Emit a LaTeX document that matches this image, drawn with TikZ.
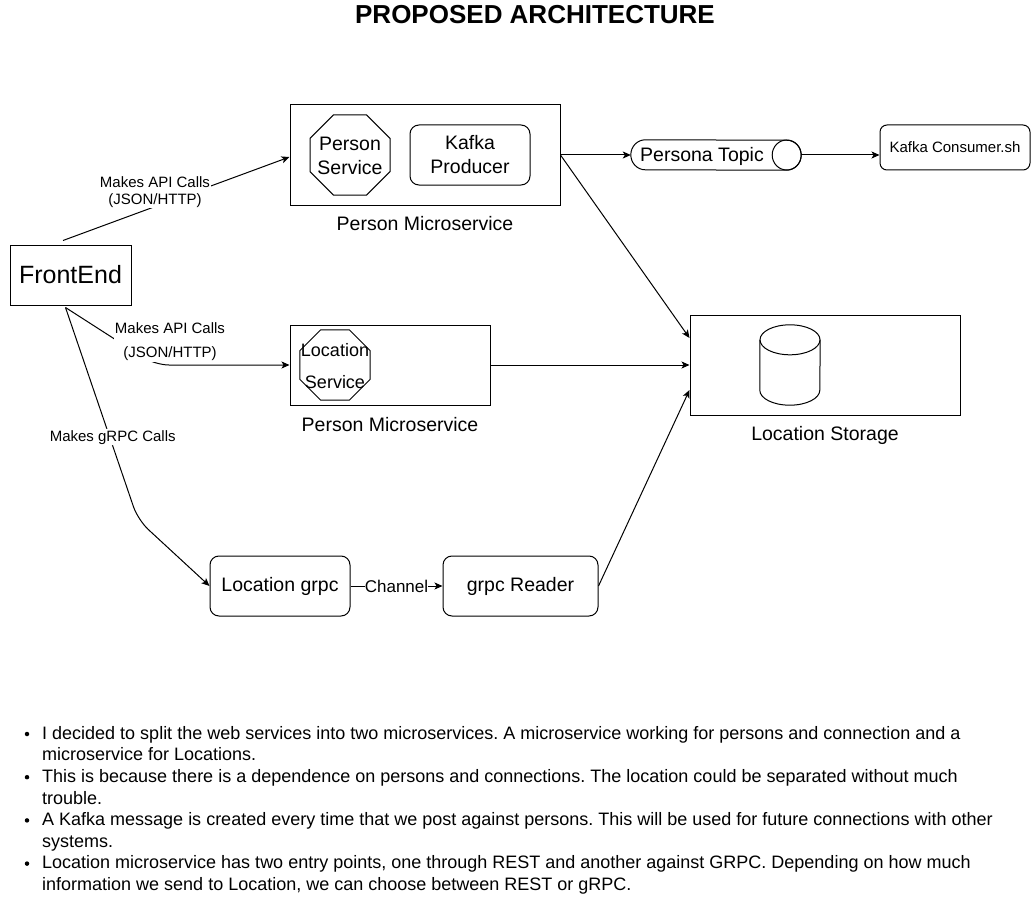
\documentclass[tikz,border=0pt]{standalone}
\usepackage{fontspec}
\setmainfont{Liberation Sans}
\frenchspacing
\usetikzlibrary{shapes.geometric,arrows.meta,calc}
\begin{document}
\begin{tikzpicture}[x=1pt,y=-1pt,
		frame/.style={draw,line width=1pt,inner sep=0pt,align=center},
		rbox/.style={frame,rounded corners=#1},
		oct/.style={frame,regular polygon,regular polygon sides=8,minimum size=#1},
		big/.style={font=\fontsize{19.5}{24}\selectfont},
		small/.style={font=\fontsize{15}{17}\selectfont},
		elbl/.style={small,fill=white,inner sep=1pt,align=center},
		conn/.style={line width=1pt,-{Stealth[length=8pt,width=7pt,inset=2pt]}},
		txt/.style={font=\fontsize{18}{21.6}\selectfont,inner sep=0pt,align=left,anchor=north west},
		dot/.style={circle,fill,inner sep=0pt,minimum size=4.5pt}]
	\useasboundingbox (0,0) rectangle (1031,915);
	\node[font=\bfseries\fontsize{26}{30}\selectfont] (title) at (535,15) {PROPOSED ARCHITECTURE};
	\node[frame,minimum width=121pt,minimum height=60pt,font=\fontsize{25}{30}\selectfont] (fe) at (70.5,275) {FrontEnd};
	\node[frame,minimum width=270pt,minimum height=100pt] (pms1) at (425,155) {};
	\node[oct=86.6pt,label={[big,align=center,yshift=-1pt]center:Person\\Service}] (ps) at (350,155) {};
	\node[rbox=9pt,minimum width=120pt,minimum height=60pt,big] (kp) at (470,155) {\raisebox{-1pt}{Kafka}\\\raisebox{-1pt}{Producer}};
	\node[big,inner sep=0pt] (pms1lbl) at (425,224) {Person Microservice};
	\node[inner sep=0pt,minimum width=170pt,minimum height=30pt,label={[big,xshift=-14pt,yshift=-1pt]center:Persona Topic}] (topic) at (716,155) {};
	\draw[line width=1pt] ($(topic.north west)+(14.5,0)$) arc[start angle=90,end angle=270,x radius=14.5pt,y radius=15pt] -- ($(topic.south east)+(-14.5,0)$) arc[start angle=-90,end angle=90,x radius=14.5pt,y radius=15pt] -- cycle;
	\draw[line width=1pt] ($(topic.east)+(-14.5,0)$) ellipse[x radius=14.5pt,y radius=15pt];
	\node[rbox=7pt,minimum width=150pt,minimum height=45pt,small] (kc) at (955,147.5) {Kafka Consumer.sh};
	\node[frame,minimum width=270pt,minimum height=100pt] (ls) at (825,365) {};
	\node[inner sep=0pt,minimum width=60pt,minimum height=80pt] (db) at (790,365) {};
	\draw[line width=1pt] ($(db.north west)+(0,15)$) -- ($(db.south west)+(0,-15)$) arc[start angle=180,end angle=360,x radius=30pt,y radius=15pt] -- ($(db.north east)+(0,15)$);
	\draw[line width=1pt] ($(db.north)+(0,15)$) ellipse[x radius=30pt,y radius=15pt];
	\node[big,inner sep=0pt] (lslbl) at (825,435.5) {Location Storage};
	\node[frame,minimum width=200pt,minimum height=80pt] (pms2) at (390,365) {};
	\node[oct=75.8pt,label={[font=\fontsize{18}{24}\selectfont,align=center,yshift=-1pt]center:Location\\[8pt]Service}] (lsv) at (335,365) {};
	\node[big,inner sep=0pt] (pms2lbl) at (390,425) {Person Microservice};
	\node[rbox=9pt,minimum width=140pt,minimum height=60pt,big] (lg) at (280,586) {Location grpc};
	\node[rbox=9pt,minimum width=155pt,minimum height=60pt,big] (gr) at (520.5,586) {grpc Reader};
	\draw[conn] ($(fe.north)+(-7.5,-4)$) -- ($(pms1.west)+(0,2)$);
	\node[elbl] (api1) at (155,192) {Makes API Calls\\(JSON/HTTP)};
	\draw[conn,rounded corners=14pt] ($(fe.south)+(-5,2)$) -- (155,365) -- (pms2.west);
	\node[elbl] (api2) at (170,342) {Makes API Calls\\[7pt](JSON/HTTP)};
	\draw[conn,rounded corners=14pt] ($(fe.south)+(-5,2)$) -- node[elbl,pos=0.61,xshift=3pt] (rpc) {Makes gRPC Calls} (138,520) -- (lg.west);
	\draw[conn] (pms1.east) -- (topic.west);
	\draw[conn] (topic.east) -- (topic.east -| kc.west);
	\draw[conn] (pms1.east) -- ($(ls.west)+(0,-27)$);
	\draw[conn] (pms2.east) -- (ls.west);
	\draw[conn] (gr.east) -- ($(ls.west)+(0,25)$);
	\draw[conn] (lg.east) -- node[elbl,inner sep=0pt,font=\fontsize{17}{20}\selectfont] (chan) {Channel} (gr.west);
	\node[dot] (d1) at (27,734) {}; \node[txt] (b1) at (42,726) {I decided to split the web services into two microservices. A microservice working for persons and connection and a\\microservice for Locations.};
	\node[dot] (d2) at (27,777.2) {}; \node[txt] (b2) at (42,769.2) {This is because there is a dependence on persons and connections. The location could be separated without much\\trouble.};
	\node[dot] (d3) at (27,820.4) {}; \node[txt] (b3) at (42,812.4) {A Kafka message is created every time that we post against persons. This will be used for future connections with other\\systems.};
	\node[dot] (d4) at (27,863.6) {}; \node[txt] (b4) at (42,855.6) {Location microservice has two entry points, one through REST and another against GRPC. Depending on how much\\information we send to Location, we can choose between REST or gRPC.};
\end{tikzpicture}
\end{document}
